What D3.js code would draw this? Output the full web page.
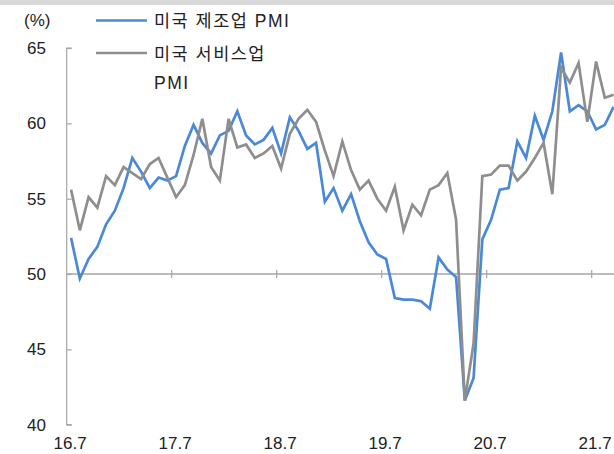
<!DOCTYPE html>
<html><head><meta charset="utf-8">
<script src="https://cdn.jsdelivr.net/npm/d3@7"></script>
<style>
body{margin:0;background:#fff;}
svg{display:block;}
text{font-family:"Liberation Sans","Noto Sans CJK KR",sans-serif;fill:#222;}
</style></head><body>
<svg id="c" width="614" height="454"></svg>
<script>
// 2016.07 ~ 2021.09 monthly
const startYear = 2016, startMonth = 7;
const manufacturing = [52.4,49.7,51.0,51.8,53.3,54.2,55.7,57.7,56.8,55.7,56.4,56.2,
  56.5,58.5,59.9,58.7,58.0,59.2,59.5,60.8,59.2,58.6,58.9,59.7,
  58.0,60.4,59.5,58.3,58.7,54.8,55.7,54.2,55.3,53.5,52.1,51.3,
  51.0,48.4,48.3,48.3,48.2,47.7,51.1,50.3,49.8,41.6,43.1,52.3,
  53.6,55.6,55.7,58.8,57.7,60.5,58.9,60.8,64.7,60.8,61.2,60.8,
  59.6,59.9,61.1];
const services = [55.6,52.9,55.1,54.4,56.5,55.9,57.1,56.7,56.3,57.3,57.7,56.4,
  55.1,55.9,57.9,60.3,57.1,56.2,60.3,58.4,58.6,57.7,58.0,58.5,
  57.0,59.3,60.3,60.9,60.1,58.2,56.5,58.8,56.9,55.6,56.2,55.0,
  54.2,55.8,52.9,54.6,53.9,55.6,55.9,56.7,53.6,41.6,45.4,56.5,
  56.6,57.2,57.2,56.2,56.8,57.7,58.7,55.3,63.7,62.7,64.0,60.1,
  64.1,61.7,61.9];
const yTicks = [40,45,50,55,60,65];
const xTickLabels = ["16.7","17.7","18.7","19.7","20.7","21.7"];
const seriesNames = ["미국 제조업 PMI","미국 서비스업 PMI"];
const seriesColors = ["#4a88d8","#8e8e8e"];

const svg = d3.select("#c");

// top band
svg.append("rect").attr("x",0).attr("y",0).attr("width",614).attr("height",5).attr("fill","#d9d9d9");

const x0 = 66.7, step = 8.75;
const nCats = 72; // plot spans 6 years of categories (cropped at right)
const x = d3.scaleBand().domain(d3.range(nCats)).range([x0, x0+step*nCats]).paddingInner(0).paddingOuter(0);
const xc = i => x(i) + x.bandwidth()/2;
const y = d3.scaleLinear().domain([40,65]).range([424.7,48.0]);

// y axis
const yAxis = svg.append("g").attr("transform",`translate(${x0},0)`)
  .call(d3.axisRight(y).tickValues(yTicks).tickSize(5).tickFormat(""));
yAxis.select(".domain").attr("stroke","#a6a6a6").attr("stroke-width",1.2).attr("d",`M5,${y(65)}H0V${y(40)}H5`);
yAxis.selectAll(".tick line").attr("stroke","#a6a6a6").attr("stroke-width",1.2);
svg.append("g").selectAll("text").data(yTicks).join("text")
  .attr("x",46).attr("y",d=>y(d)).attr("dy","0.36em").attr("text-anchor","end")
  .attr("font-size",17).attr("fill","#333").text(d=>d);

// horizontal axis at 50
const baseY = y(50);
svg.append("line").attr("x1",x0).attr("x2",614).attr("y1",baseY).attr("y2",baseY)
  .attr("stroke","#a6a6a6").attr("stroke-width",1.5);
const tickIdx = xTickLabels.map((_,k)=>k*12);
svg.append("g").selectAll("line").data(tickIdx.slice(1)).join("line")
  .attr("x1",d=>x(d)).attr("x2",d=>x(d)).attr("y1",baseY-4).attr("y2",baseY+4)
  .attr("stroke","#a6a6a6").attr("stroke-width",1.2);
svg.append("g").selectAll("text").data(xTickLabels).join("text")
  .attr("x",(d,k)=>xc(k*12)-1).attr("y",449).attr("text-anchor","middle")
  .attr("font-size",17).attr("fill","#333").text(d=>d);

// lines
const line = d3.line().x((d,i)=>xc(i)).y(d=>y(d));
[manufacturing, services].forEach((s,k)=>{
  svg.append("path").datum(s).attr("d",line).attr("fill","none")
    .attr("stroke",seriesColors[k]).attr("stroke-width",2.7).attr("stroke-linejoin","miter");
});

// (%)
svg.append("text").attr("x",24).attr("y",26).attr("font-size",17).attr("fill","#333").text("(%)");

// legend
const lg = svg.append("g").attr("font-size",17.5).attr("letter-spacing",1.5);
lg.append("line").attr("x1",96).attr("x2",147).attr("y1",20.5).attr("y2",20.5).attr("stroke",seriesColors[0]).attr("stroke-width",2.7);
lg.append("text").attr("x",154).attr("y",27).text(seriesNames[0]);
lg.append("line").attr("x1",96).attr("x2",147).attr("y1",53).attr("y2",53).attr("stroke",seriesColors[1]).attr("stroke-width",2.7);
lg.append("text").attr("x",154).attr("y",60).text("미국 서비스업");
lg.append("text").attr("x",154).attr("y",89).text("PMI");
</script>
</body></html>
